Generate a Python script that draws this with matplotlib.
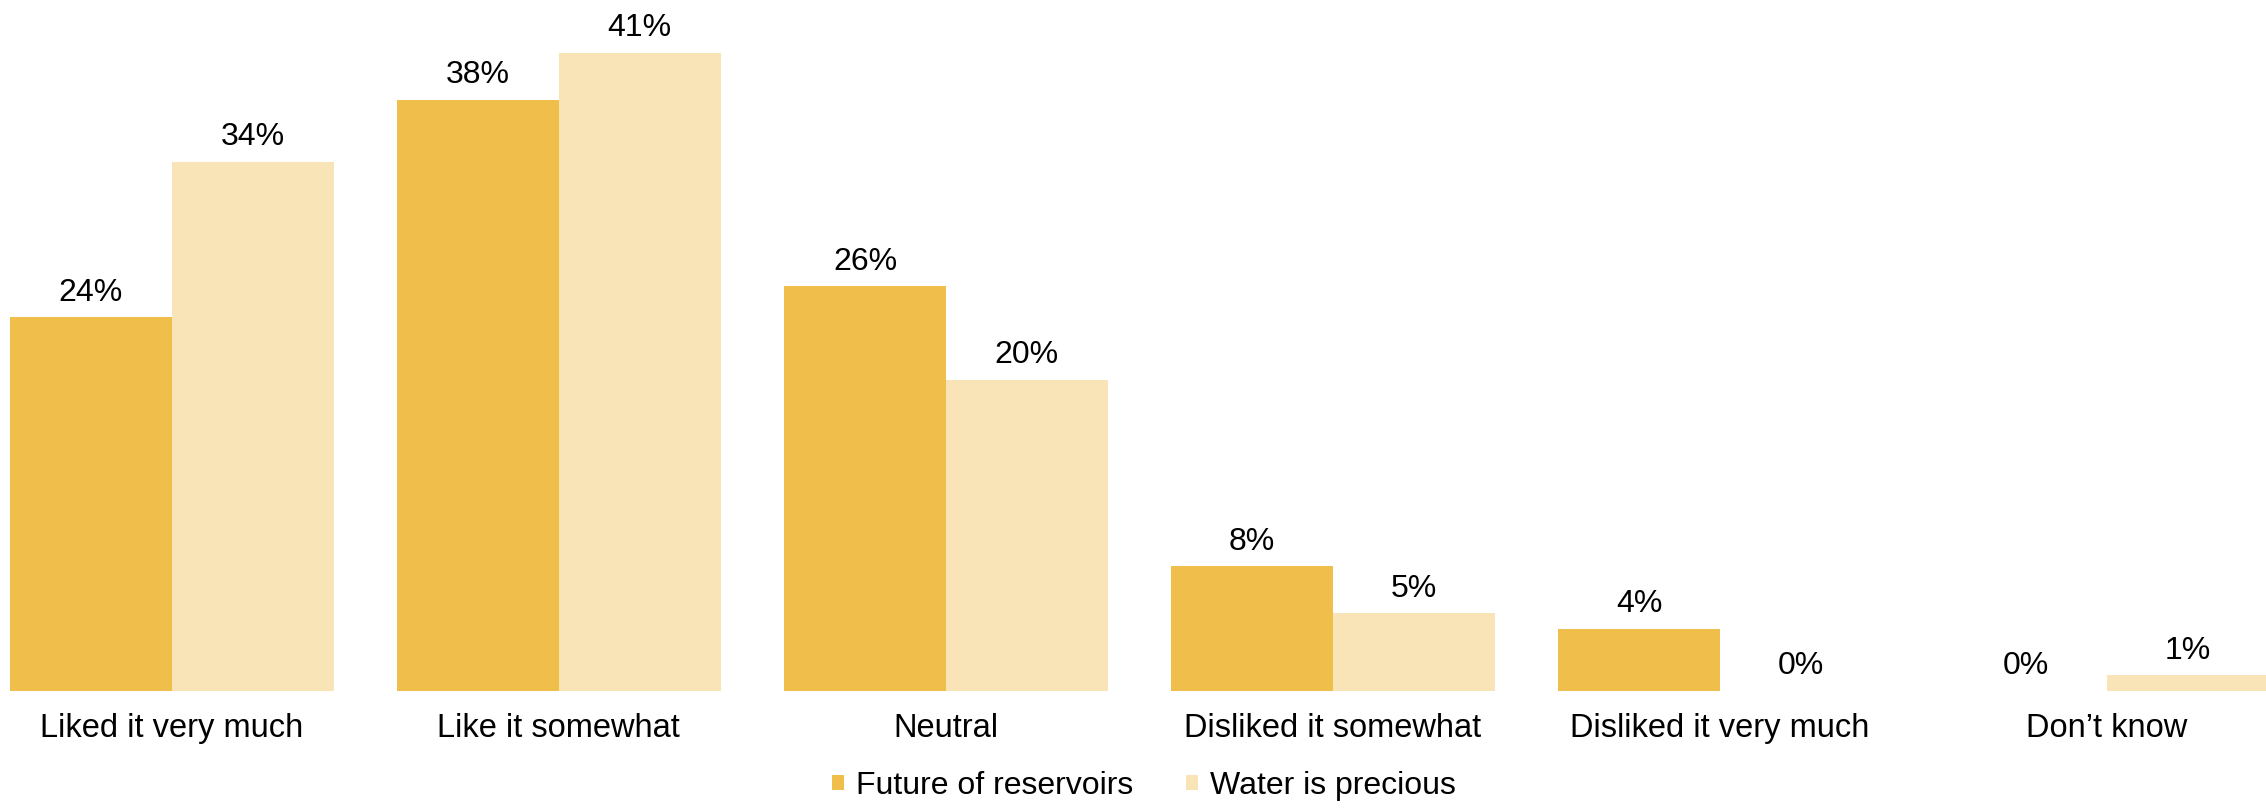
import matplotlib.pyplot as plt
from matplotlib.patches import Patch
import numpy as np

categories = ["Liked it very much", "Like it somewhat", "Neutral",
              "Disliked it somewhat", "Disliked it very much", "Don\u2019t know"]
future_of_reservoirs = [24, 38, 26, 8, 4, 0]
water_is_precious = [34, 41, 20, 5, 0, 1]
series_names = ["Future of reservoirs", "Water is precious"]

col_dark = "#F0BE4A"
col_light = "#F8E4B7"

plt.rcParams['font.family'] = ['Liberation Sans', 'DejaVu Sans']

fig = plt.figure(figsize=(22.66, 8.08), dpi=100)
ax = fig.add_axes([0, 117 / 808, 1, 691 / 808])

x = np.arange(len(categories))
w = 0.418
b1 = ax.bar(x - w / 2, future_of_reservoirs, w, color=col_dark)
b2 = ax.bar(x + w / 2, water_is_precious, w, color=col_light)

for bars, vals in ((b1, future_of_reservoirs), (b2, water_is_precious)):
    for rect, v in zip(bars, vals):
        ax.annotate(f"{v}%", (rect.get_x() + rect.get_width() / 2, v),
                    xytext=(0, 12), textcoords="offset points",
                    ha="center", va="baseline", fontsize=23, color="black")

ax.set_xlim(-0.444, 5.411)
ax.set_ylim(0, 44.4)
ax.set_xticks(x)
ax.set_xticklabels(categories, fontsize=23.5)
ax.tick_params(axis="x", length=0, pad=15.5)
ax.set_yticks([])
for s in ax.spines.values():
    s.set_visible(False)

handles = [Patch(facecolor=col_dark, edgecolor="none"),
           Patch(facecolor=col_light, edgecolor="none")]
fig.legend(handles, series_names, loc="lower center", bbox_to_anchor=(0.505, -0.019),
           ncol=2, frameon=False, fontsize=23, handlelength=0.375, handleheight=0.375,
           handletextpad=0.375, columnspacing=1.65, borderpad=0.2)

fig.savefig("out.png", dpi=100)
